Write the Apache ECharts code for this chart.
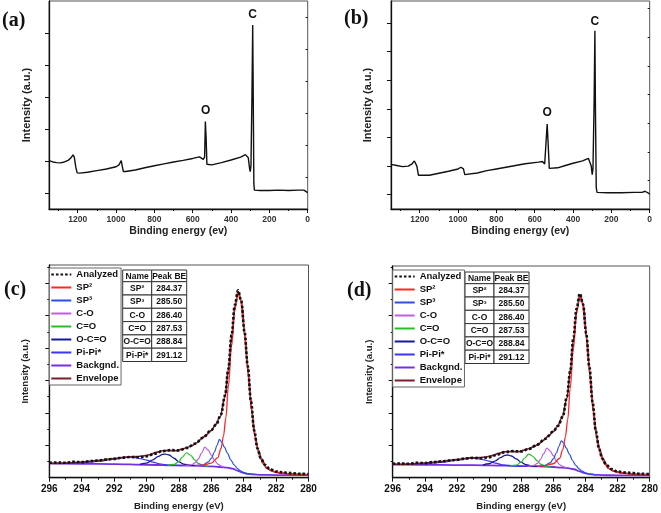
<!DOCTYPE html>
<html lang="en">
<head>
<meta charset="UTF-8">
<title>XPS</title>
<script src="https://cdn.jsdelivr.net/npm/echarts@6/dist/echarts.min.js"></script>
<style>
  html, body { margin: 0; padding: 0; background: #fff; }
  #main { width: 661px; height: 513px; }
</style>
</head>
<body>
<div id="main"></div>
<script type="text/javascript">

// ---- survey spectra (a) / (b) : binding energy (eV) and intensity (a.u.)
var surveyAE = [1350,1330,1310,1290,1270,1250,1235,1225,1218,1210,1203,1190,1150,1100,1050,1000,985,978,973,968,962,950,900,850,800,750,700,650,600,565,555,545,538,534,530,526,520,500,450,400,350,325,318,310,303,300,296,291,287,284,281,278,250,200,150,100,50,20,10,0];
var surveyAI = [1.51,1.47,1.45,1.44,1.47,1.52,1.60,1.69,1.62,1.30,1.13,1.12,1.15,1.20,1.25,1.32,1.38,1.42,1.51,1.35,1.17,1.17,1.22,1.29,1.35,1.41,1.47,1.52,1.58,1.63,1.66,1.55,1.62,2.73,2.2,1.40,1.375,1.38,1.45,1.53,1.62,1.70,1.71,1.60,1.25,1.17,1.35,3.5,5.75,3.4,0.8,0.59,0.58,0.58,0.59,0.58,0.59,0.59,0.57,0.51];
var surveyBE = [1350,1320,1290,1260,1240,1228,1222,1215,1207,1200,1150,1100,1050,1000,985,978,972,965,955,900,850,800,750,700,650,580,560,548,540,535,530,524,518,480,440,400,350,320,312,305,300,296,290,286,283,279,275,220,150,80,40,24,15,5,0];
var surveyBI = [1.56,1.52,1.48,1.50,1.58,1.68,1.70,1.50,1.18,1.13,1.18,1.25,1.32,1.40,1.46,1.52,1.40,1.20,1.19,1.26,1.34,1.40,1.46,1.52,1.58,1.64,1.66,1.57,1.6,2.97,2.3,1.42,1.39,1.44,1.52,1.6,1.68,1.77,1.74,1.50,1.20,1.40,3.8,6.23,3.4,0.75,0.58,0.57,0.57,0.58,0.58,0.62,0.6,0.55,0.51];
var peakLabelsA = [{t: 'O', e: 532, v: 2.73, d: 5}, {t: 'C', e: 287, v: 5.75, d: 4}];
var peakLabelsB = [{t: 'O', e: 535, v: 2.97, d: 5}, {t: 'C', e: 286, v: 6.23, d: 3}];

// ---- C 1s high resolution (c) / (d)
var anaE = [296,295.5,295,294.5,294,293.5,293,292.5,292,291.5,291,290.5,290,289.5,289,288.5,288,287.5,287,286.5,286,285.7,285.4,285.15,284.95,284.75,284.55,284.35,284.15,283.95,283.75,283.55,283.35,283.15,282.95,282.7,282.4,282,281.5,281,280.5,280];
var anaC = [0.46,0.47,0.46,0.49,0.48,0.51,0.53,0.56,0.58,0.62,0.64,0.63,0.66,0.74,0.82,0.85,0.84,0.92,1.05,1.24,1.47,1.64,1.95,2.55,3.35,4.4,5.32,5.78,5.45,4.5,3.45,2.35,1.45,0.9,0.6,0.4,0.27,0.19,0.16,0.14,0.12,0.11];
var anaD = [0.43,0.44,0.43,0.46,0.45,0.48,0.5,0.53,0.55,0.59,0.61,0.6,0.63,0.71,0.79,0.82,0.81,0.89,1.02,1.2,1.43,1.6,1.9,2.5,3.28,4.32,5.22,5.68,5.36,4.45,3.4,2.32,1.43,0.89,0.59,0.4,0.27,0.19,0.16,0.14,0.12,0.11];

var envE = [296,295,294,293,292,291.2,290.6,290.2,289.8,289.4,289,288.6,288.2,287.8,287.5,287.2,286.9,286.6,286.3,286,285.75,285.46,285.15,284.95,284.74,284.54,284.33,284.12,283.92,283.72,283.51,283.3,283.1,282.9,282.58,282.2,281.76,281,280];
var envC = [0.44,0.45,0.48,0.53,0.59,0.64,0.65,0.67,0.71,0.78,0.83,0.84,0.83,0.88,0.93,0.99,1.08,1.2,1.33,1.46,1.62,1.88,2.5,3.32,4.35,5.28,5.74,5.38,4.35,3.22,2.09,1.27,0.85,0.58,0.29,0.2,0.15,0.11,0.09];
var envD = [0.41,0.42,0.45,0.5,0.56,0.61,0.62,0.64,0.68,0.75,0.8,0.81,0.8,0.85,0.9,0.96,1.05,1.16,1.29,1.42,1.58,1.84,2.45,3.25,4.27,5.18,5.64,5.3,4.3,3.18,2.06,1.25,0.84,0.57,0.29,0.2,0.15,0.11,0.09];

var sp2E = [287,286.5,286,285.6,285.4,285.25,285.1,284.95,284.75,284.55,284.37,284.2,284,283.8,283.6,283.4,283.2,283,282.8,282.5,282,281,280];
var sp2C = [0.37,0.39,0.45,0.62,0.9,1.28,1.85,2.8,4.05,5.15,5.72,5.5,4.7,3.62,2.55,1.62,1.0,0.64,0.43,0.27,0.16,0.11,0.09];
var sp2D = [0.35,0.37,0.43,0.6,0.88,1.25,1.8,2.75,3.98,5.06,5.62,5.42,4.63,3.57,2.52,1.6,0.99,0.63,0.43,0.27,0.16,0.11,0.09];

var sp3E = [287,286.5,286.2,286,285.8,285.65,285.5,285.35,285.2,285,284.8,284.6,284.4,284.2,284,283.7,283.3];
var sp3C = [0.37,0.40,0.48,0.6,0.8,1.0,1.18,1.1,0.95,0.76,0.55,0.4,0.29,0.21,0.16,0.12,0.1];
var sp3D = [0.35,0.38,0.46,0.58,0.77,0.97,1.14,1.07,0.92,0.73,0.53,0.38,0.27,0.2,0.15,0.11,0.09];

var coE = [287.6,287.2,287,286.8,286.6,286.4,286.2,286,285.8,285.6,285.4,285.2];
var coC = [0.37,0.4,0.46,0.58,0.76,0.94,0.86,0.7,0.53,0.42,0.36,0.32];
var coD = [0.35,0.38,0.44,0.56,0.74,0.91,0.83,0.68,0.51,0.4,0.34,0.3];

var ceE = [288.7,288.3,288,287.8,287.53,287.3,287,286.8,286.5,286.2];
var ceC = [0.38,0.41,0.5,0.63,0.77,0.7,0.54,0.44,0.38,0.35];
var ceD = [0.36,0.39,0.48,0.6,0.73,0.67,0.52,0.42,0.36,0.33];

var ocoE = [290.4,290,289.6,289.3,289,288.84,288.6,288.3,288,287.7,287.3,287];
var ocoC = [0.41,0.45,0.55,0.65,0.72,0.73,0.7,0.6,0.49,0.42,0.38,0.37];
var ocoD = [0.39,0.43,0.52,0.62,0.69,0.7,0.67,0.58,0.47,0.4,0.36,0.35];

var ppE = [295,294,293,292,291.5,291.12,290.7,290.3,290,289.6,289.2,288.8,288.3,287.8];
var ppC = [0.44,0.46,0.5,0.57,0.61,0.63,0.62,0.58,0.54,0.48,0.43,0.4,0.38,0.37];
var ppD = [0.41,0.43,0.47,0.54,0.58,0.6,0.59,0.55,0.51,0.45,0.4,0.38,0.36,0.35];

var bgE = [296,294,292,290,288,287,286,285.5,285,284.7,284.4,284.1,283.8,283.4,283,282,280];
var bgC = [0.44,0.43,0.42,0.4,0.38,0.37,0.35,0.33,0.31,0.28,0.22,0.16,0.12,0.1,0.09,0.08,0.08];
var bgD = [0.41,0.4,0.39,0.38,0.36,0.35,0.33,0.31,0.29,0.26,0.2,0.15,0.11,0.09,0.08,0.07,0.07];

var legendNames = ['Analyzed', 'SP²', 'SP³', 'C-O', 'C=O', 'O-C=O', 'Pi-Pi*', 'Backgnd.', 'Envelope'];
var tableNames = ['SP²', 'SP³', 'C-O', 'C=O', 'O-C=O', 'Pi-Pi*'];
var tablePeakBE = ['284.37', '285.50', '286.40', '287.53', '288.84', '291.12'];

// tick labels
var surveyTicks = [0, 200, 400, 600, 800, 1000, 1200];
var surveyMinor = [100, 300, 500, 700, 900, 1100, 1300];
var c1sTicks = [280, 282, 284, 286, 288, 290, 292, 294, 296];
var c1sMinor = [281, 283, 285, 287, 289, 291, 293, 295];

var SANS = '"Liberation Sans", Arial, sans-serif';

function pairs(xs, ys) {
  var out = [];
  for (var i = 0; i < xs.length; i++) out.push([xs[i], ys[i]]);
  return out;
}

var grids = [
  {left: 49, top: 1, width: 258.7, height: 208},
  {left: 391, top: 1, width: 258.7, height: 208},
  {left: 49.3, top: 265, width: 259.2, height: 212.7},
  {left: 392.7, top: 266, width: 259.2, height: 211.7}
];
grids.forEach(function (g) { g.show = true; g.borderColor = '#555'; g.borderWidth = 1; });

var xAxes = [], yAxes = [];

function addX(g, min, max, major, minor, name, lab, nm) {
  xAxes.push({
    gridIndex: g, type: 'value', min: min, max: max, inverse: true, position: 'bottom',
    axisLine: {onZero: false, lineStyle: {color: '#111', width: 1.3}},
    axisTick: {length: 4, customValues: major, lineStyle: {color: '#111', width: 1}},
    axisLabel: {
      customValues: major, margin: lab.margin, fontSize: lab.size, fontWeight: 'bold', color: lab.color, fontFamily: SANS,
      formatter: function (v) { return String(v); }
    },
    splitLine: {show: false},
    name: name, nameLocation: 'middle', nameGap: nm.gap,
    nameTextStyle: {fontSize: nm.size, fontWeight: 'bold', color: '#222', fontFamily: SANS}
  });
  xAxes.push({
    gridIndex: g, type: 'value', min: min, max: max, inverse: true, position: 'bottom',
    axisLine: {show: false}, axisLabel: {show: false}, splitLine: {show: false},
    axisTick: {length: 2, customValues: minor, lineStyle: {color: '#111', width: 1}}
  });
}

function addY(g, max, major, minor, gap, size) {
  yAxes.push({
    gridIndex: g, type: 'value', min: 0, max: max, position: 'left',
    axisLine: {show: true, onZero: false, lineStyle: {color: '#111', width: 1.3}},
    axisTick: {show: true, length: 4, customValues: major, lineStyle: {color: '#111', width: 1}},
    axisLabel: {show: false}, splitLine: {show: false},
    name: 'Intensity (a.u.)', nameLocation: 'middle', nameGap: gap,
    nameTextStyle: {fontSize: size, fontWeight: 'bold', color: '#222', fontFamily: SANS}
  });
  yAxes.push({
    gridIndex: g, type: 'value', min: 0, max: max, position: 'left',
    axisLine: {show: false}, axisLabel: {show: false}, splitLine: {show: false},
    axisTick: {show: true, length: 2, customValues: minor, lineStyle: {color: '#111', width: 1}}
  });
}

var surveyLab = {margin: 6, size: 8.5, color: '#333'};
var c1sLab = {margin: 7, size: 10, color: '#111'};
addX(0, 0, 1350, surveyTicks, surveyMinor, 'Binding energy (ev)', surveyLab, {gap: 17, size: 10.5});
addX(1, 0, 1350, surveyTicks, surveyMinor, 'Binding energy (ev)', surveyLab, {gap: 17, size: 10.5});
addX(2, 280, 296, c1sTicks, c1sMinor, 'Binding energy (eV)', c1sLab, {gap: 24, size: 9.5});
addX(3, 280, 296, c1sTicks, c1sMinor, 'Binding energy (eV)', c1sLab, {gap: 24, size: 9.5});
addY(0, 6.5, [0.5, 1.5, 2.5, 3.5, 4.5, 5.5], [1, 2, 3, 4, 5, 6], 17, 11);
addY(1, 7.27, [0.5, 1.5, 2.5, 3.5, 4.5, 5.5, 6.5], [1, 2, 3, 4, 5, 6, 7], 17.5, 11);
addY(2, 6.56, [1, 2, 3, 4, 5, 6], [0.5, 1.5, 2.5, 3.5, 4.5, 5.5, 6.5], 18.5, 9.5);
addY(3, 6.53, [1, 2, 3, 4, 5, 6], [0.5, 1.5, 2.5, 3.5, 4.5, 5.5, 6.5], 18.5, 9.5);

var series = [];

function surveySeries(ax, E, I, labels) {
  series.push({
    type: 'line', xAxisIndex: ax, yAxisIndex: ax, data: pairs(E, I), symbol: 'none',
    lineStyle: {color: '#111', width: 1.4}, silent: true,
    markPoint: {
      symbol: 'circle', symbolSize: 0, silent: true,
      data: labels.map(function (p) {
        return {name: p.t, coord: [p.e, p.v], label: {distance: p.d}};
      }),
      label: {show: true, position: 'top', formatter: '{b}', fontSize: 12, fontWeight: 'bold', color: '#111', fontFamily: SANS}
    }
  });
}
surveySeries(0, surveyAE, surveyAI, peakLabelsA);
surveySeries(2, surveyBE, surveyBI, peakLabelsB);

var colors = {
  'Analyzed': '#111', 'SP²': '#ff2626', 'SP³': '#2b50e8', 'C-O': '#c25ce0', 'C=O': '#25c025',
  'O-C=O': '#15199e', 'Pi-Pi*': '#3b34f0', 'Backgnd.': '#7530e6', 'Envelope': '#7a1f2e'
};

function c1sSeries(ax, d) {
  function line(name, E, V, width, extra) {
    var s = {
      name: name, type: 'line', xAxisIndex: ax, yAxisIndex: ax, data: pairs(E, V),
      symbol: 'none', smooth: 0.35, smoothMonotone: 'x', silent: true,
      itemStyle: {color: colors[name]},
      lineStyle: {color: colors[name], width: width}
    };
    if (extra) s.lineStyle.type = extra;
    series.push(s);
  }
  line('Backgnd.', bgE, d.bg, 1.8);
  line('Pi-Pi*', ppE, d.pp, 1.2);
  line('O-C=O', ocoE, d.oco, 1.3);
  line('C=O', ceE, d.ce, 1.2);
  line('C-O', coE, d.co, 1.2);
  line('SP³', sp3E, d.sp3, 1.2);
  line('Envelope', envE, d.env, 1.6);
  line('SP²', sp2E, d.sp2, 1.3);
  line('Analyzed', anaE, d.ana, 2.6, [2.6, 2]);
}
c1sSeries(4, {bg: bgC, pp: ppC, oco: ocoC, ce: ceC, co: coC, sp3: sp3C, env: envC, sp2: sp2C, ana: anaC});
c1sSeries(6, {bg: bgD, pp: ppD, oco: ocoD, ce: ceD, co: coD, sp3: sp3D, env: envD, sp2: sp2D, ana: anaD});

function legendAt(left, top) {
  return {
    left: left, top: top, orient: 'vertical', data: legendNames, selectedMode: false,
    itemWidth: 20, itemHeight: 10, itemGap: 0, padding: [0, 2, 0, 1],
    itemStyle: {opacity: 0},
    borderColor: '#666', borderWidth: 1, backgroundColor: '#fff',
    textStyle: {fontSize: 9.5, fontWeight: 'bold', color: '#111', lineHeight: 13, fontFamily: SANS}
  };
}

function tableAt(left, top) {
  var w1 = 29, w2 = 35, hh = 11.7, rh = 13.3;
  var font = 'bold 8.5px ' + SANS;
  var kids = [];
  function cell(x, y, w, h, txt) {
    kids.push({type: 'rect', shape: {x: x, y: y, width: w, height: h}, style: {fill: '#fff', stroke: '#333', lineWidth: 1}});
    kids.push({type: 'text', style: {text: txt, x: x + w / 2, y: y + h / 2 + 0.5, align: 'center', verticalAlign: 'middle', font: font, fill: '#111'}});
  }
  cell(0, 0, w1, hh, 'Name');
  cell(w1, 0, w2, hh, 'Peak BE');
  for (var i = 0; i < tableNames.length; i++) {
    cell(0, hh + i * rh, w1, rh, tableNames[i]);
    cell(w1, hh + i * rh, w2, rh, tablePeakBE[i]);
  }
  return {type: 'group', x: left, y: top, children: kids, z: 100};
}

function panelLabel(txt, x, y) {
  return {type: 'text', x: x, y: y, style: {text: txt, font: 'bold 20px "Liberation Serif", "Times New Roman", serif', fill: '#111'}};
}

var option = {
  animation: false,
  backgroundColor: '#fff',
  grid: grids,
  xAxis: xAxes,
  yAxis: yAxes,
  legend: [legendAt(49.3, 268), legendAt(392.7, 270)],
  series: series,
  graphic: [
    panelLabel('(a)', 2, 11),
    panelLabel('(b)', 344, 9),
    panelLabel('(c)', 4, 280),
    panelLabel('(d)', 347, 281),
    tableAt(122.7, 270),
    tableAt(465, 272)
  ]
};

var chart = echarts.init(document.getElementById('main'));
chart.setOption(option);
</script>
</body>
</html>
